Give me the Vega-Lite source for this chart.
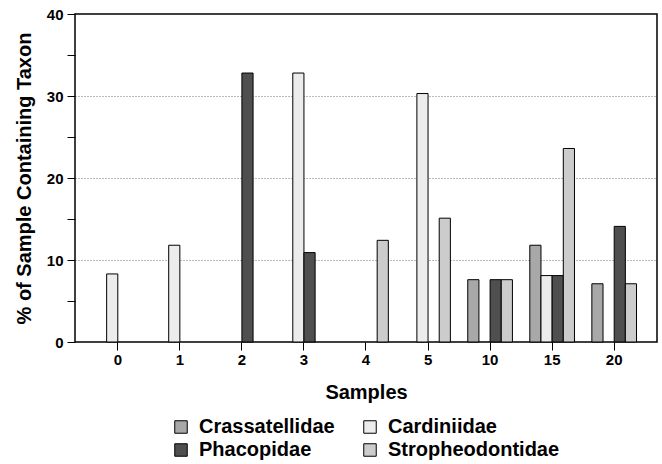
{
  "$schema": "https://vega.github.io/schema/vega-lite/v6.json",
  "autosize": {"type": "none"},
  "width": 582,
  "height": 328,
  "padding": {"left": 75, "top": 14, "right": 5, "bottom": 122},
  "background": "white",
  "config": {
    "font": "Liberation Sans",
    "view": {"stroke": "black", "strokeWidth": 1.5},
    "axis": {"labelFont": "Liberation Sans", "titleFont": "Liberation Sans", "labelColor": "black", "titleColor": "black"}
  },
  "data": {
    "values": [
      {"sample": "0", "taxon": "Cardiniidae", "pct": 8.3},
      {"sample": "1", "taxon": "Cardiniidae", "pct": 11.8},
      {"sample": "2", "taxon": "Phacopidae", "pct": 32.8},
      {"sample": "3", "taxon": "Cardiniidae", "pct": 32.8},
      {"sample": "3", "taxon": "Phacopidae", "pct": 10.9},
      {"sample": "4", "taxon": "Stropheodontidae", "pct": 12.4},
      {"sample": "5", "taxon": "Cardiniidae", "pct": 30.3},
      {"sample": "5", "taxon": "Stropheodontidae", "pct": 15.1},
      {"sample": "10", "taxon": "Crassatellidae", "pct": 7.6},
      {"sample": "10", "taxon": "Phacopidae", "pct": 7.6},
      {"sample": "10", "taxon": "Stropheodontidae", "pct": 7.6},
      {"sample": "15", "taxon": "Crassatellidae", "pct": 11.8},
      {"sample": "15", "taxon": "Cardiniidae", "pct": 8.1},
      {"sample": "15", "taxon": "Phacopidae", "pct": 8.1},
      {"sample": "15", "taxon": "Stropheodontidae", "pct": 23.6},
      {"sample": "20", "taxon": "Crassatellidae", "pct": 7.1},
      {"sample": "20", "taxon": "Phacopidae", "pct": 14.1},
      {"sample": "20", "taxon": "Stropheodontidae", "pct": 7.1}
    ]
  },
  "mark": {"type": "bar", "stroke": "black", "strokeWidth": 1},
  "encoding": {
    "x": {
      "field": "sample",
      "type": "nominal",
      "sort": ["0", "1", "2", "3", "4", "5", "10", "15", "20"],
      "scale": {"paddingInner": 0.28, "paddingOuter": 0.33},
      "axis": {
        "title": "Samples",
        "titleFontSize": 20,
        "titleFontWeight": "bold",
        "titlePadding": 15,
        "labelFontSize": 15,
        "labelFontWeight": "bold",
        "labelAngle": 0,
        "labelPadding": 2,
        "tickSize": 8,
        "tickColor": "black",
        "domain": false
      }
    },
    "xOffset": {
      "field": "taxon",
      "type": "nominal",
      "scale": {"domain": ["Crassatellidae", "Cardiniidae", "Phacopidae", "Stropheodontidae"], "paddingInner": 0, "paddingOuter": 0}
    },
    "y": {
      "field": "pct",
      "type": "quantitative",
      "scale": {"domain": [0, 40], "nice": false},
      "axis": {
        "title": "% of Sample Containing Taxon",
        "titleFontSize": 20,
        "titleFontWeight": "bold",
        "titlePadding": 12,
        "values": [0, 5, 10, 15, 20, 25, 30, 35, 40],
        "labelExpr": "datum.value % 10 === 0 ? datum.label : ''",
        "labelFontSize": 15,
        "labelFontWeight": "bold",
        "labelPadding": 4,
        "tickSize": 8,
        "tickColor": "black",
        "domain": false,
        "grid": true,
        "gridColor": "#777777",
        "gridDash": [1, 2],
        "gridOpacity": {"condition": {"test": "datum.value % 10 === 0 && datum.value > 0 && datum.value < 40", "value": 1}, "value": 0}
      }
    },
    "color": {
      "field": "taxon",
      "type": "nominal",
      "scale": {
        "domain": ["Crassatellidae", "Phacopidae", "Cardiniidae", "Stropheodontidae"],
        "range": ["#a8a8a8", "#4f4f4f", "#ececec", "#cccccc"]
      },
      "legend": {
        "title": null,
        "orient": "none",
        "legendX": 96,
        "legendY": 403,
        "columns": 2,
        "columnPadding": 25,
        "rowPadding": 3,
        "symbolType": "square",
        "symbolSize": 156,
        "symbolStrokeColor": "black",
        "symbolStrokeWidth": 1,
        "labelFontSize": 20,
        "labelFontWeight": "bold",
        "labelColor": "black",
        "labelOffset": 8,
        "labelLimit": 400
      }
    }
  }
}
